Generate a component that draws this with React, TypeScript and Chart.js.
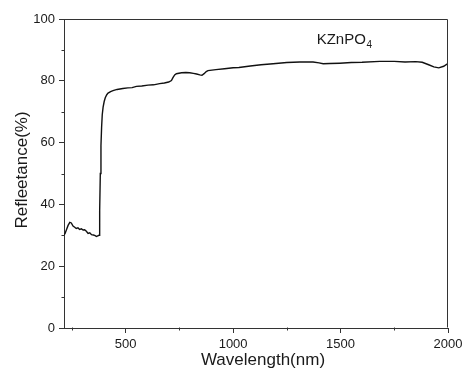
import React, { useEffect, useRef } from "react";
import { Chart, registerables } from "chart.js";

Chart.register(...registerables);

const wavelengths = [
  213, 218, 224, 232, 240, 247, 255, 263, 270, 278,
  286, 294, 302, 309, 317, 325, 333, 341, 350, 358,
  364, 370, 376, 379, 382, 385, 388, 391, 395, 400,
  405, 412, 418, 430, 441, 460, 487, 510, 530, 550,
  575, 604, 630, 658, 680, 700, 713, 720, 728, 736,
  760, 780, 798, 815, 830, 845, 855, 865, 875, 883,
  920, 960, 1000, 1027, 1080, 1130, 1186, 1250, 1311, 1372,
  1400, 1419, 1450, 1496, 1550, 1600, 1683, 1750, 1800, 1850,
  1880, 1910, 1934, 1957, 1980, 1995, 2000,
];

const reflectance = [
  30.1, 30.6, 31.7, 33.2, 34.2, 34.0, 33.0, 32.6, 32.2, 32.4,
  31.9, 32.1, 31.7, 31.8, 31.3, 30.6, 30.8, 30.2, 30.1, 29.9,
  29.6, 29.8, 30.0, 38, 50, 59, 65, 69, 71.5, 73.3,
  74.5, 75.5, 76.0, 76.5, 76.8, 77.2, 77.5, 77.7, 77.8, 78.2,
  78.3, 78.6, 78.7, 79.1, 79.3, 79.6, 80.1, 81.0, 81.9, 82.3,
  82.6, 82.7, 82.6, 82.4, 82.2, 81.9, 81.8, 82.3, 83.0, 83.3,
  83.6, 83.9, 84.2, 84.3, 84.8, 85.2, 85.5, 85.9, 86.1, 86.1,
  85.8, 85.5, 85.6, 85.7, 85.9, 86.0, 86.3, 86.3, 86.1, 86.2,
  86.0, 85.2, 84.5, 84.2, 84.7, 85.4, 85.5,
];

const xMajorTicks = [500, 1000, 1500, 2000];
const xMinorTicks = [250, 750, 1250, 1750];
const yMajorTicks = [0, 20, 40, 60, 80, 100];
const yMinorTicks = [10, 30, 50, 70, 90];
const xTitle = "Wavelength(nm)";
const yTitle = "Refleetance(%)";
const sampleName = "KZnPO";
const sampleSub = "4";

const FONT = "'Liberation Sans', Arial, sans-serif";
const AXIS = "#333333";
const TEXT = "#1a1a1a";

export default function App() {
  const ref = useRef<HTMLCanvasElement | null>(null);

  useEffect(() => {
    document.body.style.margin = "0";
    const canvas = ref.current;
    if (!canvas) return;

    const decorPlugin = {
      id: "decor",
      afterDraw(chart: any) {
        const { ctx, chartArea: a, scales } = chart;
        ctx.save();
        ctx.strokeStyle = AXIS;
        ctx.lineWidth = 1;
        const L = Math.round(a.left) + 0.5;
        const R = Math.round(a.right) - 0.5;
        const T = Math.round(a.top) + 0.5;
        const B = Math.round(a.bottom) - 0.5;
        ctx.beginPath();
        ctx.moveTo(L, T);
        ctx.lineTo(R, T);
        ctx.lineTo(R, B);
        ctx.stroke();
        ctx.beginPath();
        xMinorTicks.forEach((v) => {
          const x = Math.round(scales.x.getPixelForValue(v)) + 0.5;
          ctx.moveTo(x, B);
          ctx.lineTo(x, B + 3);
        });
        yMinorTicks.forEach((v) => {
          const y = Math.round(scales.y.getPixelForValue(v)) + 0.5;
          ctx.moveTo(L, y);
          ctx.lineTo(L - 3, y);
        });
        ctx.stroke();

        ctx.fillStyle = TEXT;
        ctx.font = `17px ${FONT}`;
        ctx.textAlign = "center";
        ctx.textBaseline = "middle";
        ctx.fillText(xTitle, 263, 360);
        ctx.save();
        ctx.translate(22, 170);
        ctx.rotate(-Math.PI / 2);
        ctx.fillText(yTitle, 0, 0);
        ctx.restore();

        const sx = scales.x.getPixelForValue(1389);
        const sy = scales.y.getPixelForValue(91.9);
        ctx.textAlign = "left";
        ctx.textBaseline = "alphabetic";
        ctx.font = `15px ${FONT}`;
        ctx.fillText(sampleName, sx, sy);
        const w = ctx.measureText(sampleName).width;
        ctx.font = `10px ${FONT}`;
        ctx.fillText(sampleSub, sx + w + 0.5, sy + 4);
        ctx.restore();
      },
    };

    const chart = new Chart(canvas, {
      type: "line",
      data: {
        datasets: [
          {
            data: wavelengths.map((x, i) => ({ x, y: reflectance[i] })),
            borderColor: "#111111",
            borderWidth: 1.4,
            pointRadius: 0,
            tension: 0,
            fill: false,
          },
        ],
      },
      options: {
        responsive: false,
        animation: false,
        events: [],
        layout: { padding: { top: 19, right: 19, left: 0, bottom: 0 } },
        plugins: {
          legend: { display: false },
          tooltip: { enabled: false },
        },
        scales: {
          x: {
            type: "linear",
            min: 213,
            max: 2000,
            afterFit: (s: any) => {
              s.height = 53;
            },
            afterBuildTicks: (s: any) => {
              s.ticks = xMajorTicks.map((v) => ({ value: v }));
            },
            grid: {
              display: true,
              drawOnChartArea: false,
              drawTicks: true,
              tickLength: 5,
              color: AXIS,
            },
            border: { display: true, color: AXIS, width: 1 },
            ticks: {
              color: TEXT,
              font: { family: FONT, size: 13 },
              padding: 4,
              maxRotation: 0,
              autoSkip: false,
              callback: (v: any) => String(v),
            },
          },
          y: {
            type: "linear",
            min: 0,
            max: 100,
            afterFit: (s: any) => {
              s.width = 64;
            },
            afterBuildTicks: (s: any) => {
              s.ticks = yMajorTicks.map((v) => ({ value: v }));
            },
            grid: {
              display: true,
              drawOnChartArea: false,
              drawTicks: true,
              tickLength: 5,
              color: AXIS,
            },
            border: { display: true, color: AXIS, width: 1 },
            ticks: {
              color: TEXT,
              font: { family: FONT, size: 13 },
              padding: 4,
              autoSkip: false,
              callback: (v: any) => String(v),
            },
          },
        },
      },
      plugins: [decorPlugin],
    } as any);

    return () => chart.destroy();
  }, []);

  return (
    <div style={{ width: 467, height: 381, background: "#fff" }}>
      <canvas ref={ref} width={467} height={381} style={{ display: "block" }} />
    </div>
  );
}
